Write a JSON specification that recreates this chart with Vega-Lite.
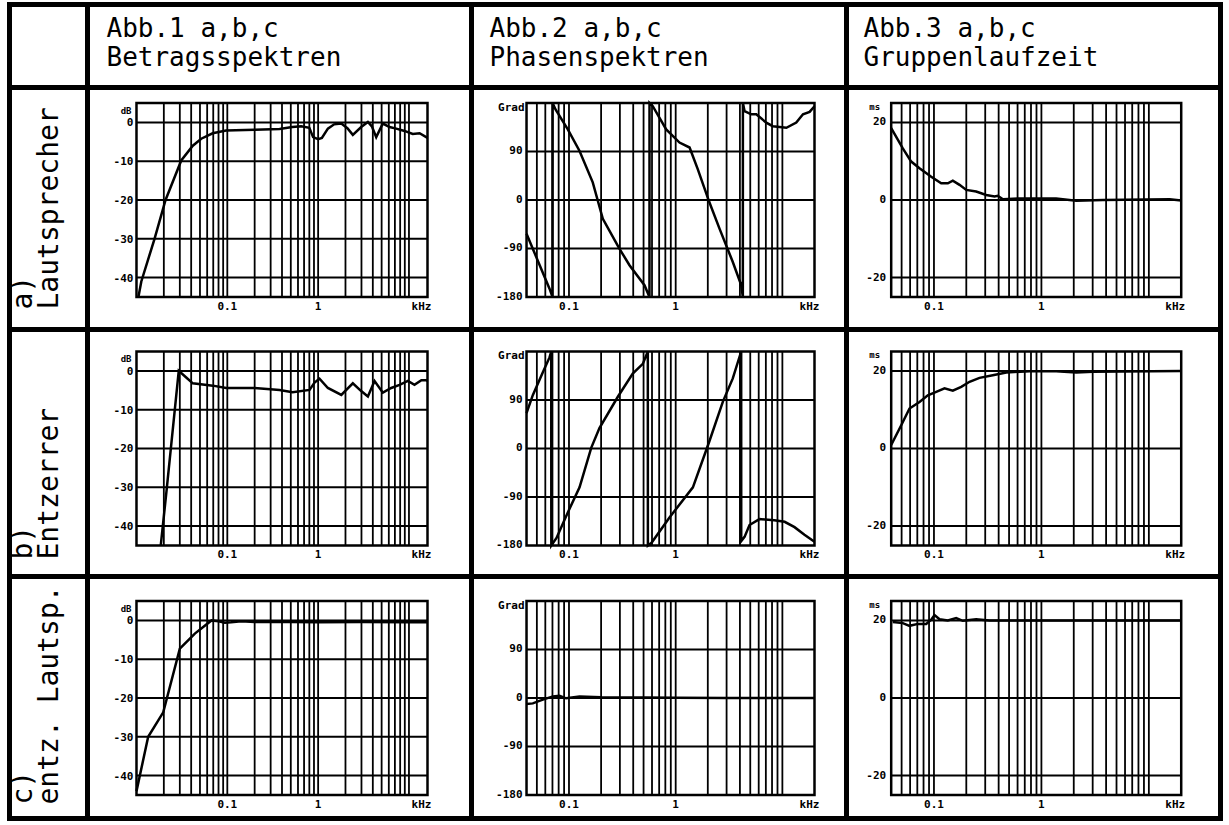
{
"$schema": "https://vega.github.io/schema/vega-lite/v6.json",
"background": "white",
"padding": {"left": 6.5, "top": 1.5, "right": 5.5, "bottom": 3.5},
"autosize": "pad",
"spacing": 0,
"bounds": "flush",
"columns": 4,
"config": {"view": {"stroke": "black", "strokeWidth": 5}, "text": {"font": "DejaVu Sans Mono", "color": "black"}},
"datasets": {
"gx1": [{"f":0.02},{"f":0.03},{"f":0.04},{"f":0.05},{"f":0.06},{"f":0.07},{"f":0.08},{"f":0.09},{"f":0.1},{"f":0.2},{"f":0.3},{"f":0.4},{"f":0.5},{"f":0.6},{"f":0.7},{"f":0.8},{"f":0.9},{"f":1},{"f":2},{"f":3},{"f":4},{"f":5},{"f":6},{"f":7},{"f":8},{"f":9},{"f":10}],
"gx2": [{"f":0.05},{"f":0.06},{"f":0.07},{"f":0.08},{"f":0.09},{"f":0.1},{"f":0.2},{"f":0.3},{"f":0.4},{"f":0.5},{"f":0.6},{"f":0.7},{"f":0.8},{"f":0.9},{"f":1},{"f":2},{"f":3},{"f":4},{"f":5},{"f":6},{"f":7},{"f":8},{"f":9},{"f":10}],
"hdb": [{"v":0},{"v":-10},{"v":-20},{"v":-30},{"v":-40}],
"hph": [{"v":90},{"v":0},{"v":-90}],
"hgd": [{"v":20},{"v":0},{"v":-20}],
"ydb": [{"v":0,"t":"0"},{"v":-10,"t":"-10"},{"v":-20,"t":"-20"},{"v":-30,"t":"-30"},{"v":-40,"t":"-40"}],
"yph": [{"v":90,"t":"90"},{"v":0,"t":"0"},{"v":-90,"t":"-90"},{"v":-180,"t":"-180"}],
"ygd": [{"v":20,"t":"20"},{"v":0,"t":"0"},{"v":-20,"t":"-20"}],
"xl": [{"f":0.1,"t":"0.1"},{"f":1,"t":"1"}],
"mag_a": [{"f":0.0105,"v":-45},{"f":0.0113,"v":-41},{"f":0.0158,"v":-30},{"f":0.0209,"v":-20},{"f":0.0311,"v":-9.8},{"f":0.0417,"v":-6},{"f":0.0516,"v":-4.2},{"f":0.069,"v":-2.8},{"f":0.097,"v":-2.1},{"f":0.2,"v":-1.9},{"f":0.376,"v":-1.7},{"f":0.52,"v":-1.2},{"f":0.65,"v":-1.0},{"f":0.8,"v":-1.4},{"f":0.88,"v":-3.8},{"f":1.0,"v":-4.3},{"f":1.1,"v":-4.0},{"f":1.28,"v":-1.6},{"f":1.5,"v":-0.5},{"f":1.8,"v":-0.3},{"f":2.1,"v":-1.5},{"f":2.41,"v":-3.2},{"f":2.98,"v":-1.2},{"f":3.53,"v":0.1},{"f":3.9,"v":-1.0},{"f":4.36,"v":-3.8},{"f":5.16,"v":-0.3},{"f":6.11,"v":-1.2},{"f":7.24,"v":-1.6},{"f":8.93,"v":-2.2},{"f":11,"v":-3.0},{"f":13.1,"v":-2.8},{"f":16,"v":-4.0}],
"mag_b": [{"f":0.0185,"v":-45},{"f":0.0216,"v":-30.1},{"f":0.0292,"v":0},{"f":0.0353,"v":-1.7},{"f":0.0417,"v":-3.2},{"f":0.0692,"v":-3.8},{"f":0.0973,"v":-4.4},{"f":0.1994,"v":-4.4},{"f":0.376,"v":-4.9},{"f":0.523,"v":-5.5},{"f":0.804,"v":-4.9},{"f":0.913,"v":-3.0},{"f":1.035,"v":-2.0},{"f":1.28,"v":-4.4},{"f":1.8,"v":-6.2},{"f":2.41,"v":-3.2},{"f":2.98,"v":-5.2},{"f":3.53,"v":-6.6},{"f":4.18,"v":-2.6},{"f":5.16,"v":-5.6},{"f":6.38,"v":-4.4},{"f":7.88,"v":-3.6},{"f":9.73,"v":-2.6},{"f":11.5,"v":-3.6},{"f":13.7,"v":-2.4},{"f":15.5,"v":-2.4},{"f":16,"v":-2.6}],
"mag_c": [{"f":0.01,"v":-44},{"f":0.01345,"v":-30},{"f":0.0197,"v":-23.7},{"f":0.03,"v":-7.3},{"f":0.0439,"v":-3.4},{"f":0.067,"v":0},{"f":0.08,"v":-0.2},{"f":0.094,"v":-0.6},{"f":0.11,"v":-0.5},{"f":0.143,"v":-0.2},{"f":0.2,"v":-0.4},{"f":0.5,"v":-0.4},{"f":1,"v":-0.5},{"f":3,"v":-0.4},{"f":10,"v":-0.5},{"f":16,"v":-0.5}],
"ph_a": [{"f":0.04,"v":-62.8},{"f":0.0657,"v":-164.5},{"f":0.0701,"v":-180},{"f":0.0702,"v":180},{"f":0.0748,"v":168},{"f":0.0975,"v":131},{"f":0.1256,"v":91},{"f":0.167,"v":32.7},{"f":0.2076,"v":-35},{"f":0.2976,"v":-90.6},{"f":0.369,"v":-121},{"f":0.51,"v":-158},{"f":0.568,"v":-180},{"f":0.5685,"v":180},{"f":0.61,"v":174},{"f":0.815,"v":131},{"f":1.086,"v":106.6},{"f":1.35,"v":97.4},{"f":1.61,"v":57.3},{"f":2.07,"v":-4.3},{"f":2.58,"v":-53.6},{"f":3.43,"v":-115},{"f":4.11,"v":-158},{"f":4.26,"v":-180},{"f":4.265,"v":180},{"f":4.42,"v":165},{"f":5.1,"v":159},{"f":5.69,"v":159},{"f":7.06,"v":143.6},{"f":8.13,"v":137},{"f":10.9,"v":134},{"f":13.5,"v":143.6},{"f":15.6,"v":159},{"f":18,"v":163.5},{"f":20,"v":174}],
"ph_b": [{"f":0.04,"v":65.6},{"f":0.0458,"v":99},{"f":0.0569,"v":141.6},{"f":0.0657,"v":169},{"f":0.0682,"v":180},{"f":0.0683,"v":-180},{"f":0.0764,"v":-166},{"f":0.0968,"v":-120},{"f":0.1256,"v":-72},{"f":0.1616,"v":1.3},{"f":0.193,"v":38},{"f":0.287,"v":96},{"f":0.396,"v":139},{"f":0.492,"v":157},{"f":0.548,"v":180},{"f":0.549,"v":-180},{"f":0.594,"v":-175},{"f":0.875,"v":-128},{"f":1.45,"v":-72},{"f":2.07,"v":13.5},{"f":2.77,"v":87},{"f":3.43,"v":130},{"f":4.11,"v":180},{"f":4.115,"v":-172},{"f":4.42,"v":-164},{"f":4.92,"v":-142},{"f":6.1,"v":-131},{"f":8.4,"v":-133},{"f":10.5,"v":-136},{"f":13,"v":-146},{"f":16.1,"v":-160},{"f":20,"v":-173}],
"ph_c": [{"f":0.04,"v":-11},{"f":0.0458,"v":-10},{"f":0.0569,"v":-3},{"f":0.0706,"v":3},{"f":0.0815,"v":4},{"f":0.094,"v":-0.6},{"f":0.1256,"v":3},{"f":0.2,"v":1.5},{"f":0.5,"v":1},{"f":1,"v":0.5},{"f":3,"v":0},{"f":20,"v":0}],
"gd_a": [{"f":0.04,"v":18.5},{"f":0.0513,"v":13.3},{"f":0.0614,"v":9.9},{"f":0.0734,"v":8.2},{"f":0.0943,"v":6.0},{"f":0.1168,"v":4.3},{"f":0.1346,"v":4.3},{"f":0.1498,"v":5.0},{"f":0.173,"v":3.9},{"f":0.1997,"v":2.6},{"f":0.247,"v":2.2},{"f":0.3065,"v":1.3},{"f":0.366,"v":0.9},{"f":0.393,"v":1.1},{"f":0.438,"v":0.2},{"f":0.626,"v":0.4},{"f":1.37,"v":0.4},{"f":2.11,"v":-0.2},{"f":3.74,"v":0},{"f":15.6,"v":0.2},{"f":20,"v":-0.1}],
"gd_b": [{"f":0.04,"v":0.9},{"f":0.0496,"v":6.0},{"f":0.0592,"v":10.3},{"f":0.0734,"v":12.0},{"f":0.0877,"v":13.7},{"f":0.105,"v":14.6},{"f":0.1254,"v":15.5},{"f":0.1498,"v":14.9},{"f":0.1794,"v":15.9},{"f":0.2144,"v":17.2},{"f":0.2655,"v":18.2},{"f":0.353,"v":18.9},{"f":0.471,"v":19.6},{"f":0.776,"v":19.9},{"f":1.37,"v":19.9},{"f":2.11,"v":19.6},{"f":3,"v":19.8},{"f":20,"v":20}],
"gd_c": [{"f":0.0414,"v":19.6},{"f":0.0513,"v":19.3},{"f":0.0592,"v":18.6},{"f":0.0708,"v":19.1},{"f":0.0847,"v":19.1},{"f":0.0943,"v":20.2},{"f":0.1012,"v":21.4},{"f":0.1127,"v":20.3},{"f":0.1346,"v":20},{"f":0.161,"v":20.6},{"f":0.1857,"v":19.9},{"f":0.247,"v":20.3},{"f":0.329,"v":20},{"f":20,"v":20}]
},
"concat": [
 {"width": 78, "height": 83, "data": {"values": [{}]}, "mark": {"type": "rect", "opacity": 0}, "encoding": {"x": {"datum": 0, "type": "quantitative", "scale": {"domain": [0, 1]}, "axis": null}, "x2": {"datum": 1}, "y": {"datum": 0, "type": "quantitative", "scale": {"domain": [0, 1]}, "axis": null}, "y2": {"datum": 1}}},
 {"width": 384, "height": 83, "data": {"values": [{"t": "Abb.1 a,b,c\nBetragsspektren"}]}, "mark": {"type": "text", "align": "left", "baseline": "top", "lineBreak": "\n", "fontSize": 26, "lineHeight": 29, "dx": 19, "dy": 11.5}, "encoding": {"x": {"datum": 0, "type": "quantitative", "scale": {"domain": [0, 1]}, "axis": null}, "y": {"datum": 1, "type": "quantitative", "scale": {"domain": [0, 1]}, "axis": null}, "text": {"field": "t"}}},
 {"width": 375, "height": 83, "data": {"values": [{"t": "Abb.2 a,b,c\nPhasenspektren"}]}, "mark": {"type": "text", "align": "left", "baseline": "top", "lineBreak": "\n", "fontSize": 26, "lineHeight": 29, "dx": 18, "dy": 11.5}, "encoding": {"x": {"datum": 0, "type": "quantitative", "scale": {"domain": [0, 1]}, "axis": null}, "y": {"datum": 1, "type": "quantitative", "scale": {"domain": [0, 1]}, "axis": null}, "text": {"field": "t"}}},
 {"width": 374, "height": 83, "data": {"values": [{"t": "Abb.3 a,b,c\nGruppenlaufzeit"}]}, "mark": {"type": "text", "align": "left", "baseline": "top", "lineBreak": "\n", "fontSize": 26, "lineHeight": 29, "dx": 17, "dy": 11.5}, "encoding": {"x": {"datum": 0, "type": "quantitative", "scale": {"domain": [0, 1]}, "axis": null}, "y": {"datum": 1, "type": "quantitative", "scale": {"domain": [0, 1]}, "axis": null}, "text": {"field": "t"}}},

 {"width": 78, "height": 242, "data": {"values": [{"t": "a)\nLautsprecher"}]}, "mark": {"type": "text", "angle": 270, "align": "left", "baseline": "top", "lineBreak": "\n", "fontSize": 28, "lineHeight": 26, "dx": 20, "dy": 0}, "encoding": {"x": {"datum": 0, "type": "quantitative", "scale": {"domain": [0, 1]}, "axis": null}, "y": {"datum": 0, "type": "quantitative", "scale": {"domain": [0, 1]}, "axis": null}, "text": {"field": "t"}}},
 {"width": 384, "height": 242, "layer": [
   {"data": {"name": "gx1"}, "mark": {"type": "rule", "color": "black", "strokeWidth": 1.8}, "encoding": {"x": {"field": "f", "type": "quantitative", "scale": {"type": "log", "domain": [0.002888, 48.82], "nice": false}, "axis": null}, "y": {"datum": -45, "type": "quantitative", "scale": {"domain": [-53.376, 8.995], "nice": false, "zero": false}, "axis": null}, "y2": {"datum": 5}}},
   {"data": {"name": "hdb"}, "mark": {"type": "rule", "color": "black", "strokeWidth": 2}, "encoding": {"x": {"datum": 0.01, "type": "quantitative", "scale": {"type": "log", "domain": [0.002888, 48.82], "nice": false}, "axis": null}, "x2": {"datum": 16}, "y": {"field": "v", "type": "quantitative", "scale": {"domain": [-53.376, 8.995], "nice": false, "zero": false}, "axis": null}}},
   {"data": {"values": [{}]}, "mark": {"type": "rect", "filled": false, "color": "black", "strokeWidth": 2.5}, "encoding": {"x": {"datum": 0.01, "type": "quantitative", "scale": {"type": "log", "domain": [0.002888, 48.82], "nice": false}, "axis": null}, "x2": {"datum": 16}, "y": {"datum": -45, "type": "quantitative", "scale": {"domain": [-53.376, 8.995], "nice": false, "zero": false}, "axis": null}, "y2": {"datum": 5}}},
   {"data": {"name": "mag_a"}, "mark": {"type": "line", "color": "black", "strokeWidth": 2.5}, "encoding": {"x": {"field": "f", "type": "quantitative", "scale": {"type": "log", "domain": [0.002888, 48.82], "nice": false}, "axis": null}, "y": {"field": "v", "type": "quantitative", "scale": {"domain": [-53.376, 8.995], "nice": false, "zero": false}, "axis": null}}},
   {"data": {"name": "ydb"}, "mark": {"type": "text", "align": "right", "baseline": "middle", "dx": -3, "dy": 1, "fontWeight": "bold", "fontSize": 11}, "encoding": {"x": {"datum": 0.01, "type": "quantitative", "scale": {"type": "log", "domain": [0.002888, 48.82], "nice": false}, "axis": null}, "y": {"field": "v", "type": "quantitative", "scale": {"domain": [-53.376, 8.995], "nice": false, "zero": false}, "axis": null}, "text": {"field": "t"}}},
   {"data": {"values": [{"t": "dB"}]}, "mark": {"type": "text", "align": "right", "baseline": "middle", "dx": -5, "dy": 8, "fontWeight": "bold", "fontSize": 9}, "encoding": {"x": {"datum": 0.01, "type": "quantitative", "scale": {"type": "log", "domain": [0.002888, 48.82], "nice": false}, "axis": null}, "y": {"datum": 5, "type": "quantitative", "scale": {"domain": [-53.376, 8.995], "nice": false, "zero": false}, "axis": null}, "text": {"field": "t"}}},
   {"data": {"name": "xl"}, "mark": {"type": "text", "align": "center", "baseline": "middle", "dy": 10, "fontWeight": "bold", "fontSize": 11}, "encoding": {"x": {"field": "f", "type": "quantitative", "scale": {"type": "log", "domain": [0.002888, 48.82], "nice": false}, "axis": null}, "y": {"datum": -45, "type": "quantitative", "scale": {"domain": [-53.376, 8.995], "nice": false, "zero": false}, "axis": null}, "text": {"field": "t"}}},
   {"data": {"values": [{"t": "kHz"}]}, "mark": {"type": "text", "align": "right", "baseline": "middle", "dx": 4, "dy": 10, "fontWeight": "bold", "fontSize": 11}, "encoding": {"x": {"datum": 16, "type": "quantitative", "scale": {"type": "log", "domain": [0.002888, 48.82], "nice": false}, "axis": null}, "y": {"datum": -45, "type": "quantitative", "scale": {"domain": [-53.376, 8.995], "nice": false, "zero": false}, "axis": null}, "text": {"field": "t"}}}
 ]},
 {"width": 375, "height": 242, "layer": [
   {"data": {"name": "gx2"}, "mark": {"type": "rule", "color": "black", "strokeWidth": 1.8}, "encoding": {"x": {"field": "f", "type": "quantitative", "scale": {"type": "log", "domain": [0.0122, 39.9], "nice": false}, "axis": null}, "y": {"datum": -180, "type": "quantitative", "scale": {"domain": [-240.31, 208.76], "nice": false, "zero": false}, "axis": null}, "y2": {"datum": 180}}},
   {"data": {"name": "hph"}, "mark": {"type": "rule", "color": "black", "strokeWidth": 2}, "encoding": {"x": {"datum": 0.04, "type": "quantitative", "scale": {"type": "log", "domain": [0.0122, 39.9], "nice": false}, "axis": null}, "x2": {"datum": 20}, "y": {"field": "v", "type": "quantitative", "scale": {"domain": [-240.31, 208.76], "nice": false, "zero": false}, "axis": null}}},
   {"data": {"values": [{}]}, "mark": {"type": "rect", "filled": false, "color": "black", "strokeWidth": 2.5}, "encoding": {"x": {"datum": 0.04, "type": "quantitative", "scale": {"type": "log", "domain": [0.0122, 39.9], "nice": false}, "axis": null}, "x2": {"datum": 20}, "y": {"datum": -180, "type": "quantitative", "scale": {"domain": [-240.31, 208.76], "nice": false, "zero": false}, "axis": null}, "y2": {"datum": 180}}},
   {"data": {"name": "ph_a"}, "mark": {"type": "line", "color": "black", "strokeWidth": 2.5}, "encoding": {"x": {"field": "f", "type": "quantitative", "scale": {"type": "log", "domain": [0.0122, 39.9], "nice": false}, "axis": null}, "y": {"field": "v", "type": "quantitative", "scale": {"domain": [-240.31, 208.76], "nice": false, "zero": false}, "axis": null}}},
   {"data": {"name": "yph"}, "mark": {"type": "text", "align": "right", "baseline": "middle", "dx": -4, "fontWeight": "bold", "fontSize": 11}, "encoding": {"x": {"datum": 0.04, "type": "quantitative", "scale": {"type": "log", "domain": [0.0122, 39.9], "nice": false}, "axis": null}, "y": {"field": "v", "type": "quantitative", "scale": {"domain": [-240.31, 208.76], "nice": false, "zero": false}, "axis": null}, "text": {"field": "t"}}},
   {"data": {"values": [{"t": "Grad"}]}, "mark": {"type": "text", "align": "right", "baseline": "middle", "dx": -2, "dy": 5, "fontWeight": "bold", "fontSize": 11}, "encoding": {"x": {"datum": 0.04, "type": "quantitative", "scale": {"type": "log", "domain": [0.0122, 39.9], "nice": false}, "axis": null}, "y": {"datum": 180, "type": "quantitative", "scale": {"domain": [-240.31, 208.76], "nice": false, "zero": false}, "axis": null}, "text": {"field": "t"}}},
   {"data": {"name": "xl"}, "mark": {"type": "text", "align": "center", "baseline": "middle", "dy": 10, "fontWeight": "bold", "fontSize": 11}, "encoding": {"x": {"field": "f", "type": "quantitative", "scale": {"type": "log", "domain": [0.0122, 39.9], "nice": false}, "axis": null}, "y": {"datum": -180, "type": "quantitative", "scale": {"domain": [-240.31, 208.76], "nice": false, "zero": false}, "axis": null}, "text": {"field": "t"}}},
   {"data": {"values": [{"t": "kHz"}]}, "mark": {"type": "text", "align": "right", "baseline": "middle", "dx": 5, "dy": 10, "fontWeight": "bold", "fontSize": 11}, "encoding": {"x": {"datum": 20, "type": "quantitative", "scale": {"type": "log", "domain": [0.0122, 39.9], "nice": false}, "axis": null}, "y": {"datum": -180, "type": "quantitative", "scale": {"domain": [-240.31, 208.76], "nice": false, "zero": false}, "axis": null}, "text": {"field": "t"}}}
 ]},
 {"width": 374, "height": 242, "layer": [
   {"data": {"name": "gx2"}, "mark": {"type": "rule", "color": "black", "strokeWidth": 1.8}, "encoding": {"x": {"field": "f", "type": "quantitative", "scale": {"type": "log", "domain": [0.01535, 46.42], "nice": false}, "axis": null}, "y": {"datum": -25, "type": "quantitative", "scale": {"domain": [-33.376, 28.995], "nice": false, "zero": false}, "axis": null}, "y2": {"datum": 25}}},
   {"data": {"name": "hgd"}, "mark": {"type": "rule", "color": "black", "strokeWidth": 2}, "encoding": {"x": {"datum": 0.04, "type": "quantitative", "scale": {"type": "log", "domain": [0.01535, 46.42], "nice": false}, "axis": null}, "x2": {"datum": 20}, "y": {"field": "v", "type": "quantitative", "scale": {"domain": [-33.376, 28.995], "nice": false, "zero": false}, "axis": null}}},
   {"data": {"values": [{}]}, "mark": {"type": "rect", "filled": false, "color": "black", "strokeWidth": 2.5}, "encoding": {"x": {"datum": 0.04, "type": "quantitative", "scale": {"type": "log", "domain": [0.01535, 46.42], "nice": false}, "axis": null}, "x2": {"datum": 20}, "y": {"datum": -25, "type": "quantitative", "scale": {"domain": [-33.376, 28.995], "nice": false, "zero": false}, "axis": null}, "y2": {"datum": 25}}},
   {"data": {"name": "gd_a"}, "mark": {"type": "line", "color": "black", "strokeWidth": 2.5}, "encoding": {"x": {"field": "f", "type": "quantitative", "scale": {"type": "log", "domain": [0.01535, 46.42], "nice": false}, "axis": null}, "y": {"field": "v", "type": "quantitative", "scale": {"domain": [-33.376, 28.995], "nice": false, "zero": false}, "axis": null}}},
   {"data": {"name": "ygd"}, "mark": {"type": "text", "align": "right", "baseline": "middle", "dx": -5, "fontWeight": "bold", "fontSize": 11}, "encoding": {"x": {"datum": 0.04, "type": "quantitative", "scale": {"type": "log", "domain": [0.01535, 46.42], "nice": false}, "axis": null}, "y": {"field": "v", "type": "quantitative", "scale": {"domain": [-33.376, 28.995], "nice": false, "zero": false}, "axis": null}, "text": {"field": "t"}}},
   {"data": {"values": [{"t": "ms"}]}, "mark": {"type": "text", "align": "right", "baseline": "middle", "dx": -11, "dy": 4, "fontWeight": "bold", "fontSize": 9}, "encoding": {"x": {"datum": 0.04, "type": "quantitative", "scale": {"type": "log", "domain": [0.01535, 46.42], "nice": false}, "axis": null}, "y": {"datum": 25, "type": "quantitative", "scale": {"domain": [-33.376, 28.995], "nice": false, "zero": false}, "axis": null}, "text": {"field": "t"}}},
   {"data": {"name": "xl"}, "mark": {"type": "text", "align": "center", "baseline": "middle", "dy": 10, "fontWeight": "bold", "fontSize": 11}, "encoding": {"x": {"field": "f", "type": "quantitative", "scale": {"type": "log", "domain": [0.01535, 46.42], "nice": false}, "axis": null}, "y": {"datum": -25, "type": "quantitative", "scale": {"domain": [-33.376, 28.995], "nice": false, "zero": false}, "axis": null}, "text": {"field": "t"}}},
   {"data": {"values": [{"t": "kHz"}]}, "mark": {"type": "text", "align": "right", "baseline": "middle", "dx": 4, "dy": 10, "fontWeight": "bold", "fontSize": 11}, "encoding": {"x": {"datum": 20, "type": "quantitative", "scale": {"type": "log", "domain": [0.01535, 46.42], "nice": false}, "axis": null}, "y": {"datum": -25, "type": "quantitative", "scale": {"domain": [-33.376, 28.995], "nice": false, "zero": false}, "axis": null}, "text": {"field": "t"}}}
 ]},

 {"width": 78, "height": 247, "data": {"values": [{"t": "b)\nEntzerrer"}]}, "mark": {"type": "text", "angle": 270, "align": "left", "baseline": "top", "lineBreak": "\n", "fontSize": 28, "lineHeight": 26, "dx": 17, "dy": 0}, "encoding": {"x": {"datum": 0, "type": "quantitative", "scale": {"domain": [0, 1]}, "axis": null}, "y": {"datum": 0, "type": "quantitative", "scale": {"domain": [0, 1]}, "axis": null}, "text": {"field": "t"}}},
 {"width": 384, "height": 247, "layer": [
   {"data": {"name": "gx1"}, "mark": {"type": "rule", "color": "black", "strokeWidth": 1.8}, "encoding": {"x": {"field": "f", "type": "quantitative", "scale": {"type": "log", "domain": [0.002888, 48.82], "nice": false}, "axis": null}, "y": {"datum": -45, "type": "quantitative", "scale": {"domain": [-52.99, 10.67], "nice": false, "zero": false}, "axis": null}, "y2": {"datum": 5}}},
   {"data": {"name": "hdb"}, "mark": {"type": "rule", "color": "black", "strokeWidth": 2}, "encoding": {"x": {"datum": 0.01, "type": "quantitative", "scale": {"type": "log", "domain": [0.002888, 48.82], "nice": false}, "axis": null}, "x2": {"datum": 16}, "y": {"field": "v", "type": "quantitative", "scale": {"domain": [-52.99, 10.67], "nice": false, "zero": false}, "axis": null}}},
   {"data": {"values": [{}]}, "mark": {"type": "rect", "filled": false, "color": "black", "strokeWidth": 2.5}, "encoding": {"x": {"datum": 0.01, "type": "quantitative", "scale": {"type": "log", "domain": [0.002888, 48.82], "nice": false}, "axis": null}, "x2": {"datum": 16}, "y": {"datum": -45, "type": "quantitative", "scale": {"domain": [-52.99, 10.67], "nice": false, "zero": false}, "axis": null}, "y2": {"datum": 5}}},
   {"data": {"name": "mag_b"}, "mark": {"type": "line", "color": "black", "strokeWidth": 2.5}, "encoding": {"x": {"field": "f", "type": "quantitative", "scale": {"type": "log", "domain": [0.002888, 48.82], "nice": false}, "axis": null}, "y": {"field": "v", "type": "quantitative", "scale": {"domain": [-52.99, 10.67], "nice": false, "zero": false}, "axis": null}}},
   {"data": {"name": "ydb"}, "mark": {"type": "text", "align": "right", "baseline": "middle", "dx": -3, "dy": 1, "fontWeight": "bold", "fontSize": 11}, "encoding": {"x": {"datum": 0.01, "type": "quantitative", "scale": {"type": "log", "domain": [0.002888, 48.82], "nice": false}, "axis": null}, "y": {"field": "v", "type": "quantitative", "scale": {"domain": [-52.99, 10.67], "nice": false, "zero": false}, "axis": null}, "text": {"field": "t"}}},
   {"data": {"values": [{"t": "dB"}]}, "mark": {"type": "text", "align": "right", "baseline": "middle", "dx": -5, "dy": 8, "fontWeight": "bold", "fontSize": 9}, "encoding": {"x": {"datum": 0.01, "type": "quantitative", "scale": {"type": "log", "domain": [0.002888, 48.82], "nice": false}, "axis": null}, "y": {"datum": 5, "type": "quantitative", "scale": {"domain": [-52.99, 10.67], "nice": false, "zero": false}, "axis": null}, "text": {"field": "t"}}},
   {"data": {"name": "xl"}, "mark": {"type": "text", "align": "center", "baseline": "middle", "dy": 10, "fontWeight": "bold", "fontSize": 11}, "encoding": {"x": {"field": "f", "type": "quantitative", "scale": {"type": "log", "domain": [0.002888, 48.82], "nice": false}, "axis": null}, "y": {"datum": -45, "type": "quantitative", "scale": {"domain": [-52.99, 10.67], "nice": false, "zero": false}, "axis": null}, "text": {"field": "t"}}},
   {"data": {"values": [{"t": "kHz"}]}, "mark": {"type": "text", "align": "right", "baseline": "middle", "dx": 4, "dy": 10, "fontWeight": "bold", "fontSize": 11}, "encoding": {"x": {"datum": 16, "type": "quantitative", "scale": {"type": "log", "domain": [0.002888, 48.82], "nice": false}, "axis": null}, "y": {"datum": -45, "type": "quantitative", "scale": {"domain": [-52.99, 10.67], "nice": false, "zero": false}, "axis": null}, "text": {"field": "t"}}}
 ]},
 {"width": 375, "height": 247, "layer": [
   {"data": {"name": "gx2"}, "mark": {"type": "rule", "color": "black", "strokeWidth": 1.8}, "encoding": {"x": {"field": "f", "type": "quantitative", "scale": {"type": "log", "domain": [0.0122, 39.9], "nice": false}, "axis": null}, "y": {"datum": -180, "type": "quantitative", "scale": {"domain": [-237.53, 220.82], "nice": false, "zero": false}, "axis": null}, "y2": {"datum": 180}}},
   {"data": {"name": "hph"}, "mark": {"type": "rule", "color": "black", "strokeWidth": 2}, "encoding": {"x": {"datum": 0.04, "type": "quantitative", "scale": {"type": "log", "domain": [0.0122, 39.9], "nice": false}, "axis": null}, "x2": {"datum": 20}, "y": {"field": "v", "type": "quantitative", "scale": {"domain": [-237.53, 220.82], "nice": false, "zero": false}, "axis": null}}},
   {"data": {"values": [{}]}, "mark": {"type": "rect", "filled": false, "color": "black", "strokeWidth": 2.5}, "encoding": {"x": {"datum": 0.04, "type": "quantitative", "scale": {"type": "log", "domain": [0.0122, 39.9], "nice": false}, "axis": null}, "x2": {"datum": 20}, "y": {"datum": -180, "type": "quantitative", "scale": {"domain": [-237.53, 220.82], "nice": false, "zero": false}, "axis": null}, "y2": {"datum": 180}}},
   {"data": {"name": "ph_b"}, "mark": {"type": "line", "color": "black", "strokeWidth": 2.5}, "encoding": {"x": {"field": "f", "type": "quantitative", "scale": {"type": "log", "domain": [0.0122, 39.9], "nice": false}, "axis": null}, "y": {"field": "v", "type": "quantitative", "scale": {"domain": [-237.53, 220.82], "nice": false, "zero": false}, "axis": null}}},
   {"data": {"name": "yph"}, "mark": {"type": "text", "align": "right", "baseline": "middle", "dx": -4, "fontWeight": "bold", "fontSize": 11}, "encoding": {"x": {"datum": 0.04, "type": "quantitative", "scale": {"type": "log", "domain": [0.0122, 39.9], "nice": false}, "axis": null}, "y": {"field": "v", "type": "quantitative", "scale": {"domain": [-237.53, 220.82], "nice": false, "zero": false}, "axis": null}, "text": {"field": "t"}}},
   {"data": {"values": [{"t": "Grad"}]}, "mark": {"type": "text", "align": "right", "baseline": "middle", "dx": -2, "dy": 5, "fontWeight": "bold", "fontSize": 11}, "encoding": {"x": {"datum": 0.04, "type": "quantitative", "scale": {"type": "log", "domain": [0.0122, 39.9], "nice": false}, "axis": null}, "y": {"datum": 180, "type": "quantitative", "scale": {"domain": [-237.53, 220.82], "nice": false, "zero": false}, "axis": null}, "text": {"field": "t"}}},
   {"data": {"name": "xl"}, "mark": {"type": "text", "align": "center", "baseline": "middle", "dy": 10, "fontWeight": "bold", "fontSize": 11}, "encoding": {"x": {"field": "f", "type": "quantitative", "scale": {"type": "log", "domain": [0.0122, 39.9], "nice": false}, "axis": null}, "y": {"datum": -180, "type": "quantitative", "scale": {"domain": [-237.53, 220.82], "nice": false, "zero": false}, "axis": null}, "text": {"field": "t"}}},
   {"data": {"values": [{"t": "kHz"}]}, "mark": {"type": "text", "align": "right", "baseline": "middle", "dx": 5, "dy": 10, "fontWeight": "bold", "fontSize": 11}, "encoding": {"x": {"datum": 20, "type": "quantitative", "scale": {"type": "log", "domain": [0.0122, 39.9], "nice": false}, "axis": null}, "y": {"datum": -180, "type": "quantitative", "scale": {"domain": [-237.53, 220.82], "nice": false, "zero": false}, "axis": null}, "text": {"field": "t"}}}
 ]},
 {"width": 374, "height": 247, "layer": [
   {"data": {"name": "gx2"}, "mark": {"type": "rule", "color": "black", "strokeWidth": 1.8}, "encoding": {"x": {"field": "f", "type": "quantitative", "scale": {"type": "log", "domain": [0.01535, 46.42], "nice": false}, "axis": null}, "y": {"datum": -25, "type": "quantitative", "scale": {"domain": [-32.99, 30.67], "nice": false, "zero": false}, "axis": null}, "y2": {"datum": 25}}},
   {"data": {"name": "hgd"}, "mark": {"type": "rule", "color": "black", "strokeWidth": 2}, "encoding": {"x": {"datum": 0.04, "type": "quantitative", "scale": {"type": "log", "domain": [0.01535, 46.42], "nice": false}, "axis": null}, "x2": {"datum": 20}, "y": {"field": "v", "type": "quantitative", "scale": {"domain": [-32.99, 30.67], "nice": false, "zero": false}, "axis": null}}},
   {"data": {"values": [{}]}, "mark": {"type": "rect", "filled": false, "color": "black", "strokeWidth": 2.5}, "encoding": {"x": {"datum": 0.04, "type": "quantitative", "scale": {"type": "log", "domain": [0.01535, 46.42], "nice": false}, "axis": null}, "x2": {"datum": 20}, "y": {"datum": -25, "type": "quantitative", "scale": {"domain": [-32.99, 30.67], "nice": false, "zero": false}, "axis": null}, "y2": {"datum": 25}}},
   {"data": {"name": "gd_b"}, "mark": {"type": "line", "color": "black", "strokeWidth": 2.5}, "encoding": {"x": {"field": "f", "type": "quantitative", "scale": {"type": "log", "domain": [0.01535, 46.42], "nice": false}, "axis": null}, "y": {"field": "v", "type": "quantitative", "scale": {"domain": [-32.99, 30.67], "nice": false, "zero": false}, "axis": null}}},
   {"data": {"name": "ygd"}, "mark": {"type": "text", "align": "right", "baseline": "middle", "dx": -5, "fontWeight": "bold", "fontSize": 11}, "encoding": {"x": {"datum": 0.04, "type": "quantitative", "scale": {"type": "log", "domain": [0.01535, 46.42], "nice": false}, "axis": null}, "y": {"field": "v", "type": "quantitative", "scale": {"domain": [-32.99, 30.67], "nice": false, "zero": false}, "axis": null}, "text": {"field": "t"}}},
   {"data": {"values": [{"t": "ms"}]}, "mark": {"type": "text", "align": "right", "baseline": "middle", "dx": -11, "dy": 4, "fontWeight": "bold", "fontSize": 9}, "encoding": {"x": {"datum": 0.04, "type": "quantitative", "scale": {"type": "log", "domain": [0.01535, 46.42], "nice": false}, "axis": null}, "y": {"datum": 25, "type": "quantitative", "scale": {"domain": [-32.99, 30.67], "nice": false, "zero": false}, "axis": null}, "text": {"field": "t"}}},
   {"data": {"name": "xl"}, "mark": {"type": "text", "align": "center", "baseline": "middle", "dy": 10, "fontWeight": "bold", "fontSize": 11}, "encoding": {"x": {"field": "f", "type": "quantitative", "scale": {"type": "log", "domain": [0.01535, 46.42], "nice": false}, "axis": null}, "y": {"datum": -25, "type": "quantitative", "scale": {"domain": [-32.99, 30.67], "nice": false, "zero": false}, "axis": null}, "text": {"field": "t"}}},
   {"data": {"values": [{"t": "kHz"}]}, "mark": {"type": "text", "align": "right", "baseline": "middle", "dx": 4, "dy": 10, "fontWeight": "bold", "fontSize": 11}, "encoding": {"x": {"datum": 20, "type": "quantitative", "scale": {"type": "log", "domain": [0.01535, 46.42], "nice": false}, "axis": null}, "y": {"datum": -25, "type": "quantitative", "scale": {"domain": [-32.99, 30.67], "nice": false, "zero": false}, "axis": null}, "text": {"field": "t"}}}
 ]},

 {"width": 78, "height": 242, "data": {"values": [{"t": "c)\nentz. Lautsp."}]}, "mark": {"type": "text", "angle": 270, "align": "left", "baseline": "top", "lineBreak": "\n", "fontSize": 28, "lineHeight": 26, "dx": 14, "dy": 0}, "encoding": {"x": {"datum": 0, "type": "quantitative", "scale": {"domain": [0, 1]}, "axis": null}, "y": {"datum": 0, "type": "quantitative", "scale": {"domain": [0, 1]}, "axis": null}, "text": {"field": "t"}}},
 {"width": 384, "height": 242, "layer": [
   {"data": {"name": "gx1"}, "mark": {"type": "rule", "color": "black", "strokeWidth": 1.8}, "encoding": {"x": {"field": "f", "type": "quantitative", "scale": {"type": "log", "domain": [0.002888, 48.82], "nice": false}, "axis": null}, "y": {"datum": -45, "type": "quantitative", "scale": {"domain": [-51.057, 11.314], "nice": false, "zero": false}, "axis": null}, "y2": {"datum": 5}}},
   {"data": {"name": "hdb"}, "mark": {"type": "rule", "color": "black", "strokeWidth": 2}, "encoding": {"x": {"datum": 0.01, "type": "quantitative", "scale": {"type": "log", "domain": [0.002888, 48.82], "nice": false}, "axis": null}, "x2": {"datum": 16}, "y": {"field": "v", "type": "quantitative", "scale": {"domain": [-51.057, 11.314], "nice": false, "zero": false}, "axis": null}}},
   {"data": {"values": [{}]}, "mark": {"type": "rect", "filled": false, "color": "black", "strokeWidth": 2.5}, "encoding": {"x": {"datum": 0.01, "type": "quantitative", "scale": {"type": "log", "domain": [0.002888, 48.82], "nice": false}, "axis": null}, "x2": {"datum": 16}, "y": {"datum": -45, "type": "quantitative", "scale": {"domain": [-51.057, 11.314], "nice": false, "zero": false}, "axis": null}, "y2": {"datum": 5}}},
   {"data": {"name": "mag_c"}, "mark": {"type": "line", "color": "black", "strokeWidth": 2.5}, "encoding": {"x": {"field": "f", "type": "quantitative", "scale": {"type": "log", "domain": [0.002888, 48.82], "nice": false}, "axis": null}, "y": {"field": "v", "type": "quantitative", "scale": {"domain": [-51.057, 11.314], "nice": false, "zero": false}, "axis": null}}},
   {"data": {"name": "ydb"}, "mark": {"type": "text", "align": "right", "baseline": "middle", "dx": -3, "dy": 1, "fontWeight": "bold", "fontSize": 11}, "encoding": {"x": {"datum": 0.01, "type": "quantitative", "scale": {"type": "log", "domain": [0.002888, 48.82], "nice": false}, "axis": null}, "y": {"field": "v", "type": "quantitative", "scale": {"domain": [-51.057, 11.314], "nice": false, "zero": false}, "axis": null}, "text": {"field": "t"}}},
   {"data": {"values": [{"t": "dB"}]}, "mark": {"type": "text", "align": "right", "baseline": "middle", "dx": -5, "dy": 8, "fontWeight": "bold", "fontSize": 9}, "encoding": {"x": {"datum": 0.01, "type": "quantitative", "scale": {"type": "log", "domain": [0.002888, 48.82], "nice": false}, "axis": null}, "y": {"datum": 5, "type": "quantitative", "scale": {"domain": [-51.057, 11.314], "nice": false, "zero": false}, "axis": null}, "text": {"field": "t"}}},
   {"data": {"name": "xl"}, "mark": {"type": "text", "align": "center", "baseline": "middle", "dy": 10, "fontWeight": "bold", "fontSize": 11}, "encoding": {"x": {"field": "f", "type": "quantitative", "scale": {"type": "log", "domain": [0.002888, 48.82], "nice": false}, "axis": null}, "y": {"datum": -45, "type": "quantitative", "scale": {"domain": [-51.057, 11.314], "nice": false, "zero": false}, "axis": null}, "text": {"field": "t"}}},
   {"data": {"values": [{"t": "kHz"}]}, "mark": {"type": "text", "align": "right", "baseline": "middle", "dx": 4, "dy": 10, "fontWeight": "bold", "fontSize": 11}, "encoding": {"x": {"datum": 16, "type": "quantitative", "scale": {"type": "log", "domain": [0.002888, 48.82], "nice": false}, "axis": null}, "y": {"datum": -45, "type": "quantitative", "scale": {"domain": [-51.057, 11.314], "nice": false, "zero": false}, "axis": null}, "text": {"field": "t"}}}
 ]},
 {"width": 375, "height": 242, "layer": [
   {"data": {"name": "gx2"}, "mark": {"type": "rule", "color": "black", "strokeWidth": 1.8}, "encoding": {"x": {"field": "f", "type": "quantitative", "scale": {"type": "log", "domain": [0.0122, 39.9], "nice": false}, "axis": null}, "y": {"datum": -180, "type": "quantitative", "scale": {"domain": [-223.61, 225.46], "nice": false, "zero": false}, "axis": null}, "y2": {"datum": 180}}},
   {"data": {"name": "hph"}, "mark": {"type": "rule", "color": "black", "strokeWidth": 2}, "encoding": {"x": {"datum": 0.04, "type": "quantitative", "scale": {"type": "log", "domain": [0.0122, 39.9], "nice": false}, "axis": null}, "x2": {"datum": 20}, "y": {"field": "v", "type": "quantitative", "scale": {"domain": [-223.61, 225.46], "nice": false, "zero": false}, "axis": null}}},
   {"data": {"values": [{}]}, "mark": {"type": "rect", "filled": false, "color": "black", "strokeWidth": 2.5}, "encoding": {"x": {"datum": 0.04, "type": "quantitative", "scale": {"type": "log", "domain": [0.0122, 39.9], "nice": false}, "axis": null}, "x2": {"datum": 20}, "y": {"datum": -180, "type": "quantitative", "scale": {"domain": [-223.61, 225.46], "nice": false, "zero": false}, "axis": null}, "y2": {"datum": 180}}},
   {"data": {"name": "ph_c"}, "mark": {"type": "line", "color": "black", "strokeWidth": 2.5}, "encoding": {"x": {"field": "f", "type": "quantitative", "scale": {"type": "log", "domain": [0.0122, 39.9], "nice": false}, "axis": null}, "y": {"field": "v", "type": "quantitative", "scale": {"domain": [-223.61, 225.46], "nice": false, "zero": false}, "axis": null}}},
   {"data": {"name": "yph"}, "mark": {"type": "text", "align": "right", "baseline": "middle", "dx": -4, "fontWeight": "bold", "fontSize": 11}, "encoding": {"x": {"datum": 0.04, "type": "quantitative", "scale": {"type": "log", "domain": [0.0122, 39.9], "nice": false}, "axis": null}, "y": {"field": "v", "type": "quantitative", "scale": {"domain": [-223.61, 225.46], "nice": false, "zero": false}, "axis": null}, "text": {"field": "t"}}},
   {"data": {"values": [{"t": "Grad"}]}, "mark": {"type": "text", "align": "right", "baseline": "middle", "dx": -2, "dy": 5, "fontWeight": "bold", "fontSize": 11}, "encoding": {"x": {"datum": 0.04, "type": "quantitative", "scale": {"type": "log", "domain": [0.0122, 39.9], "nice": false}, "axis": null}, "y": {"datum": 180, "type": "quantitative", "scale": {"domain": [-223.61, 225.46], "nice": false, "zero": false}, "axis": null}, "text": {"field": "t"}}},
   {"data": {"name": "xl"}, "mark": {"type": "text", "align": "center", "baseline": "middle", "dy": 10, "fontWeight": "bold", "fontSize": 11}, "encoding": {"x": {"field": "f", "type": "quantitative", "scale": {"type": "log", "domain": [0.0122, 39.9], "nice": false}, "axis": null}, "y": {"datum": -180, "type": "quantitative", "scale": {"domain": [-223.61, 225.46], "nice": false, "zero": false}, "axis": null}, "text": {"field": "t"}}},
   {"data": {"values": [{"t": "kHz"}]}, "mark": {"type": "text", "align": "right", "baseline": "middle", "dx": 5, "dy": 10, "fontWeight": "bold", "fontSize": 11}, "encoding": {"x": {"datum": 20, "type": "quantitative", "scale": {"type": "log", "domain": [0.0122, 39.9], "nice": false}, "axis": null}, "y": {"datum": -180, "type": "quantitative", "scale": {"domain": [-223.61, 225.46], "nice": false, "zero": false}, "axis": null}, "text": {"field": "t"}}}
 ]},
 {"width": 374, "height": 242, "layer": [
   {"data": {"name": "gx2"}, "mark": {"type": "rule", "color": "black", "strokeWidth": 1.8}, "encoding": {"x": {"field": "f", "type": "quantitative", "scale": {"type": "log", "domain": [0.01535, 46.42], "nice": false}, "axis": null}, "y": {"datum": -25, "type": "quantitative", "scale": {"domain": [-31.057, 31.314], "nice": false, "zero": false}, "axis": null}, "y2": {"datum": 25}}},
   {"data": {"name": "hgd"}, "mark": {"type": "rule", "color": "black", "strokeWidth": 2}, "encoding": {"x": {"datum": 0.04, "type": "quantitative", "scale": {"type": "log", "domain": [0.01535, 46.42], "nice": false}, "axis": null}, "x2": {"datum": 20}, "y": {"field": "v", "type": "quantitative", "scale": {"domain": [-31.057, 31.314], "nice": false, "zero": false}, "axis": null}}},
   {"data": {"values": [{}]}, "mark": {"type": "rect", "filled": false, "color": "black", "strokeWidth": 2.5}, "encoding": {"x": {"datum": 0.04, "type": "quantitative", "scale": {"type": "log", "domain": [0.01535, 46.42], "nice": false}, "axis": null}, "x2": {"datum": 20}, "y": {"datum": -25, "type": "quantitative", "scale": {"domain": [-31.057, 31.314], "nice": false, "zero": false}, "axis": null}, "y2": {"datum": 25}}},
   {"data": {"name": "gd_c"}, "mark": {"type": "line", "color": "black", "strokeWidth": 2.5}, "encoding": {"x": {"field": "f", "type": "quantitative", "scale": {"type": "log", "domain": [0.01535, 46.42], "nice": false}, "axis": null}, "y": {"field": "v", "type": "quantitative", "scale": {"domain": [-31.057, 31.314], "nice": false, "zero": false}, "axis": null}}},
   {"data": {"name": "ygd"}, "mark": {"type": "text", "align": "right", "baseline": "middle", "dx": -5, "fontWeight": "bold", "fontSize": 11}, "encoding": {"x": {"datum": 0.04, "type": "quantitative", "scale": {"type": "log", "domain": [0.01535, 46.42], "nice": false}, "axis": null}, "y": {"field": "v", "type": "quantitative", "scale": {"domain": [-31.057, 31.314], "nice": false, "zero": false}, "axis": null}, "text": {"field": "t"}}},
   {"data": {"values": [{"t": "ms"}]}, "mark": {"type": "text", "align": "right", "baseline": "middle", "dx": -11, "dy": 4, "fontWeight": "bold", "fontSize": 9}, "encoding": {"x": {"datum": 0.04, "type": "quantitative", "scale": {"type": "log", "domain": [0.01535, 46.42], "nice": false}, "axis": null}, "y": {"datum": 25, "type": "quantitative", "scale": {"domain": [-31.057, 31.314], "nice": false, "zero": false}, "axis": null}, "text": {"field": "t"}}},
   {"data": {"name": "xl"}, "mark": {"type": "text", "align": "center", "baseline": "middle", "dy": 10, "fontWeight": "bold", "fontSize": 11}, "encoding": {"x": {"field": "f", "type": "quantitative", "scale": {"type": "log", "domain": [0.01535, 46.42], "nice": false}, "axis": null}, "y": {"datum": -25, "type": "quantitative", "scale": {"domain": [-31.057, 31.314], "nice": false, "zero": false}, "axis": null}, "text": {"field": "t"}}},
   {"data": {"values": [{"t": "kHz"}]}, "mark": {"type": "text", "align": "right", "baseline": "middle", "dx": 4, "dy": 10, "fontWeight": "bold", "fontSize": 11}, "encoding": {"x": {"datum": 20, "type": "quantitative", "scale": {"type": "log", "domain": [0.01535, 46.42], "nice": false}, "axis": null}, "y": {"datum": -25, "type": "quantitative", "scale": {"domain": [-31.057, 31.314], "nice": false, "zero": false}, "axis": null}, "text": {"field": "t"}}}
 ]}
]
}
